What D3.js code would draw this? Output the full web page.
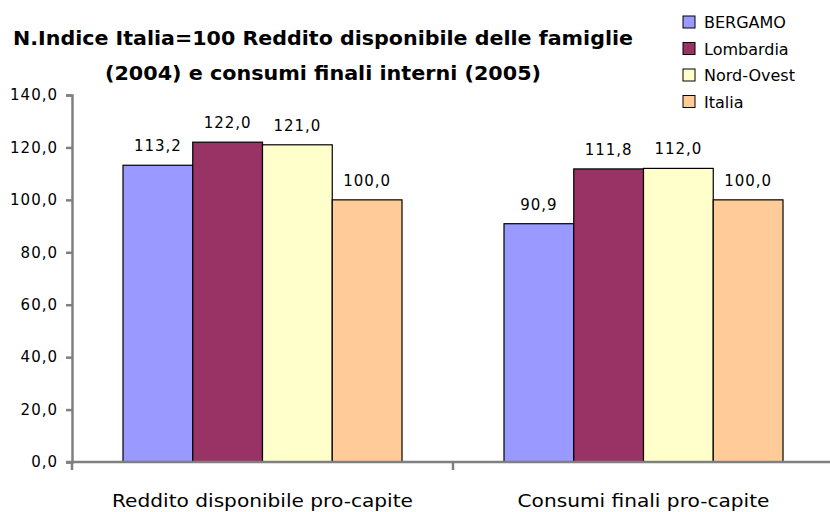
<!DOCTYPE html>
<html lang="it">
<head>
<meta charset="UTF-8">
<title>Indice Italia=100</title>
<script src="https://d3js.org/d3.v7.min.js"></script>
<style>
    body { margin: 0; background: #fff; }
    text { font-family: "DejaVu Sans", Verdana, sans-serif; fill: #000; }
</style>
</head>
<body>
<svg id="chart" width="830" height="512"></svg>
<script>
    // data
    const categories = ["Reddito disponibile pro-capite", "Consumi finali pro-capite"];
    const seriesNames = ["BERGAMO", "Lombardia", "Nord-Ovest", "Italia"];
    const seriesColors = ["#9999ff", "#993366", "#ffffcc", "#ffcc99"];
    const values = [
        [113.2, 122.0, 121.0, 100.0],
        [90.9, 111.8, 112.0, 100.0]
    ];
    const yTicks = [0, 20, 40, 60, 80, 100, 120, 140];
    const titleLines = ["N.Indice Italia=100 Reddito disponibile delle famiglie",
                        "(2004) e consumi finali interni (2005)"];

    const svg = d3.select("#chart");
    const plotLeft = 72, plotRight = 834, plotTop = 95, plotBottom = 462;
    const fmt = v => v.toFixed(1).replace(".", ",");

    const x0 = d3.scaleBand().domain(categories).range([plotLeft, plotRight]).paddingInner(0).paddingOuter(0);
    const x1 = d3.scaleBand().domain(seriesNames).range([51, x0.bandwidth() - 51]).padding(0);
    const y = d3.scaleLinear().domain([0, 140]).range([plotBottom, plotTop]);

    // title, stretched to the width it has in the original
    const titleWidths = [620, 436];
    svg.selectAll("text.title").data(titleLines).enter().append("text")
        .attr("class", "title")
        .attr("x", 323).attr("y", (d, i) => 45 + i * 35)
        .attr("text-anchor", "middle")
        .attr("textLength", (d, i) => titleWidths[i])
        .attr("lengthAdjust", "spacingAndGlyphs")
        .style("font-size", "20px").style("font-weight", "bold")
        .text(d => d);

    // bars
    const groups = svg.selectAll("g.cat").data(categories).enter().append("g")
        .attr("class", "cat")
        .attr("transform", d => `translate(${x0(d)},0)`);

    groups.selectAll("rect").data((d, i) => values[i].map((v, j) => ({v, j})))
        .enter().append("rect")
        .attr("x", d => x1(seriesNames[d.j]))
        .attr("y", d => y(d.v))
        .attr("width", x1.bandwidth())
        .attr("height", d => y(0) - y(d.v))
        .attr("fill", d => seriesColors[d.j])
        .attr("stroke", "#000").attr("stroke-width", 1.2);

    groups.selectAll("text.val").data((d, i) => values[i].map((v, j) => ({v, j})))
        .enter().append("text")
        .attr("class", "val")
        .attr("x", d => x1(seriesNames[d.j]) + x1.bandwidth() / 2)
        .attr("y", d => y(d.v) - 14)
        .attr("text-anchor", "middle")
        .style("font-size", "15px").style("letter-spacing", "1px")
        .text(d => fmt(d.v));

    // y axis
    const yAxis = svg.append("g").attr("transform", `translate(${plotLeft},0)`)
        .call(d3.axisLeft(y).tickValues(yTicks).tickFormat(fmt).tickSize(6).tickPadding(8));
    yAxis.select(".domain").attr("stroke", "#808080").attr("stroke-width", 2.5);
    yAxis.selectAll(".tick line").attr("stroke", "#808080").attr("stroke-width", 2.5);
    yAxis.selectAll(".tick text").style("font-size", "15px").style("letter-spacing", "1px")
        .style("font-family", "'DejaVu Sans', Verdana, sans-serif");

    // x axis
    const xAxis = svg.append("g").attr("transform", `translate(0,${plotBottom})`);
    xAxis.append("line").attr("x1", plotLeft - 6).attr("x2", plotRight)
        .attr("stroke", "#808080").attr("stroke-width", 2.5);
    xAxis.selectAll("line.tk").data([plotLeft, x0(categories[1])]).enter().append("line")
        .attr("class", "tk")
        .attr("x1", d => d).attr("x2", d => d).attr("y1", 0).attr("y2", 8)
        .attr("stroke", "#808080").attr("stroke-width", 2.5);
    const catWidths = [301, 252];
    xAxis.selectAll("text").data(categories).enter().append("text")
        .attr("x", d => x0(d) + x0.bandwidth() / 2)
        .attr("y", 45)
        .attr("text-anchor", "middle")
        .attr("textLength", (d, i) => catWidths[i])
        .attr("lengthAdjust", "spacingAndGlyphs")
        .style("font-size", "18px")
        .text(d => d);

    // legend
    const legend = svg.append("g").attr("transform", "translate(683,16)");
    const items = legend.selectAll("g").data(seriesNames).enter().append("g")
        .attr("transform", (d, i) => `translate(0,${i * 26.5})`);
    items.append("rect").attr("width", 12).attr("height", 12)
        .attr("fill", (d, i) => seriesColors[i]).attr("stroke", "#000");
    items.append("text").attr("x", 21).attr("y", 12)
        .style("font-size", "16px").text(d => d);
</script>
</body>
</html>
